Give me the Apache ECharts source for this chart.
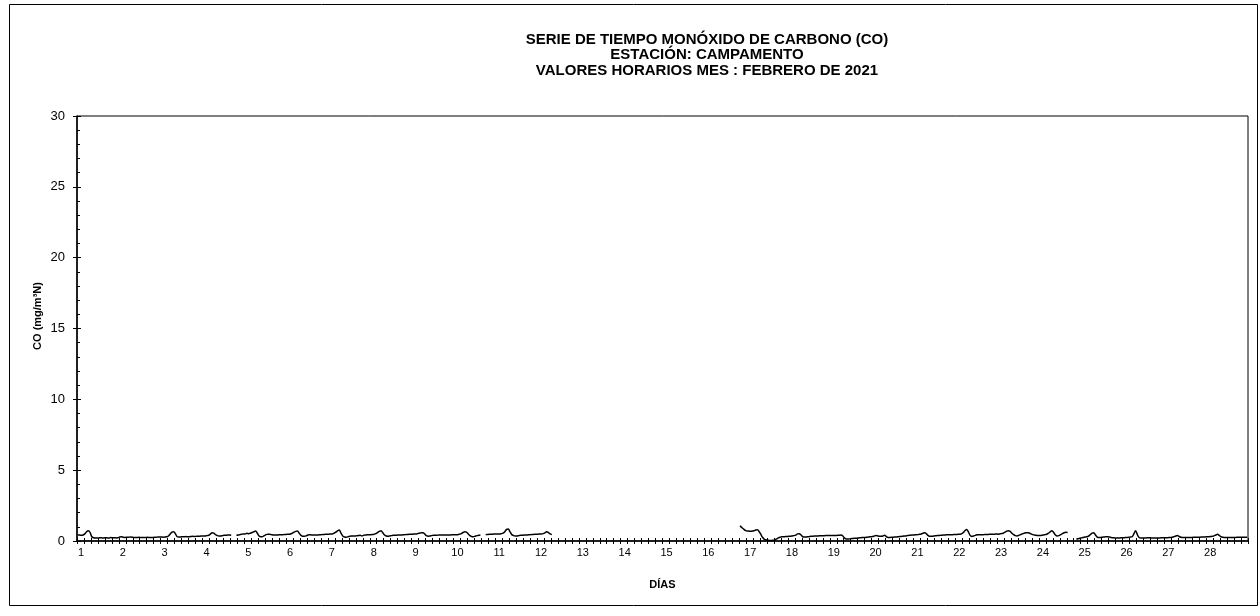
<!DOCTYPE html>
<html>
<head>
<meta charset="utf-8">
<script src="https://cdn.jsdelivr.net/npm/echarts@6/dist/echarts.min.js"></script>
<style>html,body{margin:0;padding:0;background:#fff}#c{width:1260px;height:616px}</style>
</head>
<body>
<div id="c"></div>
<script>
// Hourly CO values (mg/m³N), 24 per day, February 2021; null = no data
const d01 = [0.42,0.42,0.40,0.42,0.50,0.65,0.73,0.60,0.30,0.23,0.22,0.22,0.22,0.23,0.22,0.22,0.23,0.22,0.22,0.24,0.23,0.23,0.22,0.23];
const d02 = [0.28,0.30,0.27,0.25,0.26,0.27,0.28,0.27,0.25,0.24,0.25,0.26,0.25,0.24,0.24,0.25,0.26,0.25,0.24,0.25,0.26,0.27,0.28,0.28];
const d03 = [0.28,0.27,0.28,0.30,0.35,0.50,0.62,0.66,0.50,0.30,0.28,0.29,0.30,0.30,0.31,0.30,0.30,0.32,0.33,0.32,0.33,0.34,0.34,0.35];
const d04 = [0.36,0.36,0.38,0.40,0.48,0.58,0.56,0.45,0.38,0.35,0.36,0.38,0.40,0.41,0.42,0.42,0.40,null,null,0.40,0.42,0.45,0.48,0.50];
const d05 = [0.50,0.55,0.52,0.55,0.60,0.65,0.70,0.55,0.35,0.30,0.31,0.38,0.45,0.48,0.47,0.45,0.43,0.42,0.42,0.43,0.44,0.44,0.45,0.46];
const d06 = [0.47,0.48,0.50,0.55,0.62,0.68,0.70,0.55,0.40,0.34,0.33,0.36,0.42,0.44,0.43,0.42,0.42,0.42,0.43,0.44,0.45,0.46,0.47,0.48];
const d07 = [0.48,0.50,0.50,0.55,0.62,0.72,0.77,0.55,0.35,0.28,0.27,0.30,0.34,0.36,0.35,0.35,0.37,0.38,0.40,0.36,0.40,0.42,0.44,0.45];
const d08 = [0.45,0.46,0.48,0.52,0.60,0.68,0.73,0.58,0.42,0.35,0.34,0.36,0.38,0.40,0.40,0.41,0.42,0.43,0.43,0.44,0.45,0.46,0.47,0.48];
const d09 = [0.48,0.50,0.50,0.52,0.55,0.58,0.59,0.50,0.38,0.34,0.35,0.38,0.40,0.41,0.41,0.42,0.42,0.42,0.43,0.43,0.42,0.43,0.43,0.44];
const d10 = [0.44,0.45,0.45,0.48,0.52,0.60,0.65,0.62,0.50,0.38,0.32,0.30,0.34,0.38,0.40,0.42,null,null,0.45,0.46,0.47,0.48,0.48,0.50];
const d11 = [0.50,0.50,0.50,0.52,0.55,0.65,0.82,0.85,0.65,0.45,0.38,0.35,0.36,0.38,0.40,0.40,0.42,0.42,0.43,0.44,0.45,0.46,0.47,0.48];
const d12 = [0.48,0.50,0.50,0.52,0.58,0.66,0.60,0.50,0.45,null,null,null,null,null,null,null,null,null,null,null,null,null,null,null];
const d13 = new Array(24).fill(null);
const d14 = new Array(24).fill(null);
const d15 = new Array(24).fill(null);
const d16 = [null,null,null,null,null,null,null,null,null,null,null,null,null,null,null,null,null,null,null,null,1.08,0.95,0.85,0.75];
const d17 = [0.70,0.70,0.68,0.70,0.72,0.78,0.80,0.65,0.45,0.25,0.12,0.07,0.05,0.04,0.04,0.05,0.08,0.15,0.22,0.27,0.30,0.30,0.31,0.32];
const d18 = [0.33,0.34,0.36,0.38,0.42,0.50,0.52,0.42,0.30,0.28,0.28,0.30,0.32,0.33,0.34,0.35,0.36,0.36,0.37,0.37,0.37,0.38,0.38,0.38];
const d19 = [0.38,0.38,0.38,0.39,0.40,0.41,0.42,0.35,0.20,0.14,0.14,0.15,0.17,0.18,0.20,0.20,0.22,0.23,0.24,0.25,0.25,0.27,0.28,0.30];
const d20 = [0.32,0.35,0.38,0.36,0.33,0.33,0.35,0.40,0.30,0.25,0.25,0.26,0.27,0.28,0.29,0.30,0.32,0.33,0.35,0.36,0.38,0.40,0.41,0.42];
const d21 = [0.43,0.44,0.45,0.47,0.50,0.55,0.59,0.50,0.38,0.33,0.33,0.35,0.37,0.38,0.39,0.40,0.41,0.42,0.43,0.44,0.44,0.45,0.45,0.46];
const d22 = [0.46,0.47,0.48,0.50,0.58,0.72,0.82,0.65,0.40,0.32,0.35,0.40,0.44,0.45,0.44,0.44,0.45,0.46,0.46,0.47,0.47,0.48,0.48,0.50];
const d23 = [0.48,0.50,0.52,0.55,0.62,0.70,0.73,0.68,0.55,0.45,0.38,0.36,0.40,0.45,0.50,0.55,0.58,0.59,0.56,0.50,0.45,0.42,0.40,0.38];
const d24 = [0.38,0.40,0.42,0.45,0.48,0.55,0.65,0.73,0.60,0.42,0.35,0.38,0.45,0.52,0.58,0.61,0.60,null,null,null,null,0.14,0.16,0.20];
const d25 = [0.22,0.25,0.28,0.30,0.35,0.45,0.55,0.59,0.42,0.28,0.24,0.25,0.27,0.29,0.30,0.30,0.28,0.25,0.23,0.22,0.21,0.22,0.22,0.23];
const d26 = [0.23,0.24,0.25,0.26,0.28,0.30,0.50,0.73,0.45,0.25,0.22,0.22,0.22,0.22,0.23,0.23,0.22,0.22,0.22,0.22,0.22,0.22,0.23,0.23];
const d27 = [0.23,0.23,0.24,0.24,0.26,0.30,0.35,0.38,0.32,0.26,0.25,0.25,0.25,0.25,0.25,0.25,0.26,0.26,0.26,0.27,0.27,0.28,0.28,0.29];
const d28 = [0.30,0.30,0.31,0.33,0.36,0.42,0.47,0.40,0.30,0.26,0.25,0.25,0.25,0.25,0.25,0.25,0.25,0.26,0.26,0.26,0.26,0.26,0.26,0.26];

const dayLabels = ['1','2','3','4','5','6','7','8','9','10','11','12','13','14','15','16','17','18','19','20','21','22','23','24','25','26','27','28'];
const yTicks = [0, 5, 10, 15, 20, 25, 30];

const days = [d01,d02,d03,d04,d05,d06,d07,d08,d09,d10,d11,d12,d13,d14,d15,d16,d17,d18,d19,d20,d21,d22,d23,d24,d25,d26,d27,d28];
const seriesData = [];
days.forEach((arr, di) => arr.forEach((v, h) => seriesData.push([di * 24 + h + 0.5, v])));

const FONT = '"Liberation Sans", Arial, sans-serif';
const chart = echarts.init(document.getElementById('c'), null, {renderer: 'canvas'});
const xCommon = {
  type: 'value', min: 0, max: 672, interval: 24, gridIndex: 0, position: 'bottom',
  splitLine: {show: false}
};
const yCommon = {
  type: 'value', min: yTicks[0], max: yTicks[yTicks.length - 1], interval: 5, position: 'left',
  splitLine: {show: false}
};
chart.setOption({
  animation: false,
  backgroundColor: '#fff',
  title: {
    text: 'SERIE DE TIEMPO MONÓXIDO DE CARBONO (CO)\nESTACIÓN: CAMPAMENTO\nVALORES HORARIOS MES : FEBRERO DE 2021',
    left: 702, top: 27, textAlign: 'center',
    textStyle: {fontFamily: FONT, fontSize: 15, fontWeight: 'bold', color: '#000', lineHeight: 15.5}
  },
  graphic: [{
    type: 'rect', shape: {x: 9.5, y: 4.5, width: 1248, height: 601},
    style: {fill: 'none', stroke: '#000', lineWidth: 1}, silent: true, z: -1
  }],
  grid: {left: 77, right: 12, top: 116, bottom: 75, show: true, borderColor: '#000', borderWidth: 1, backgroundColor: 'transparent'},
  xAxis: [
    Object.assign({}, xCommon, {
      name: 'DÍAS', nameLocation: 'middle', nameGap: 38,
      nameTextStyle: {fontFamily: FONT, fontSize: 11, fontWeight: 'bold', color: '#000'},
      axisLine: {show: true, lineStyle: {color: '#000', width: 1.5}},
      axisTick: {show: true, length: 3, lineStyle: {color: '#000'}},
      minorTick: {show: true, splitNumber: 6, length: 3, lineStyle: {color: '#000'}},
      axisLabel: {
        fontFamily: FONT, fontSize: 11, color: '#000', margin: 6, padding: [0, 0, 0, 8],
        showMaxLabel: false,
        formatter: v => { const i = Math.round(v / 24); return i < dayLabels.length ? dayLabels[i] : ''; }
      }
    }),
    Object.assign({}, xCommon, {
      axisLine: {show: false},
      axisTick: {show: true, inside: true, length: 3, lineStyle: {color: '#000'}},
      minorTick: {show: true, splitNumber: 6, length: 3, lineStyle: {color: '#000'}},
      axisLabel: {show: false}
    })
  ],
  yAxis: [
    Object.assign({}, yCommon, {
      axisLine: {show: true, lineStyle: {color: '#000', width: 1.5}},
      axisTick: {show: true, length: 4, lineStyle: {color: '#000'}},
      axisLabel: {fontFamily: FONT, fontSize: 13, color: '#000', margin: 12}
    }),
    Object.assign({}, yCommon, {
      name: 'CO (mg/m³N)', nameLocation: 'middle', nameGap: 34, nameRotate: 90,
      nameTextStyle: {fontFamily: FONT, fontSize: 11, fontWeight: 'bold', color: '#000', padding: [0, 0, 0, 25]},
      axisLine: {show: false},
      axisTick: {show: true, inside: true, length: 4, lineStyle: {color: '#000'}},
      minorTick: {show: true, splitNumber: 5, length: 3, lineStyle: {color: '#000'}},
      axisLabel: {show: false}
    })
  ],
  series: [{
    type: 'line', xAxisIndex: 0, yAxisIndex: 0, data: seriesData,
    showSymbol: false, smooth: 0.3, connectNulls: false,
    lineStyle: {color: '#000', width: 1.5}, clip: true
  }]
});
</script>
</body>
</html>
